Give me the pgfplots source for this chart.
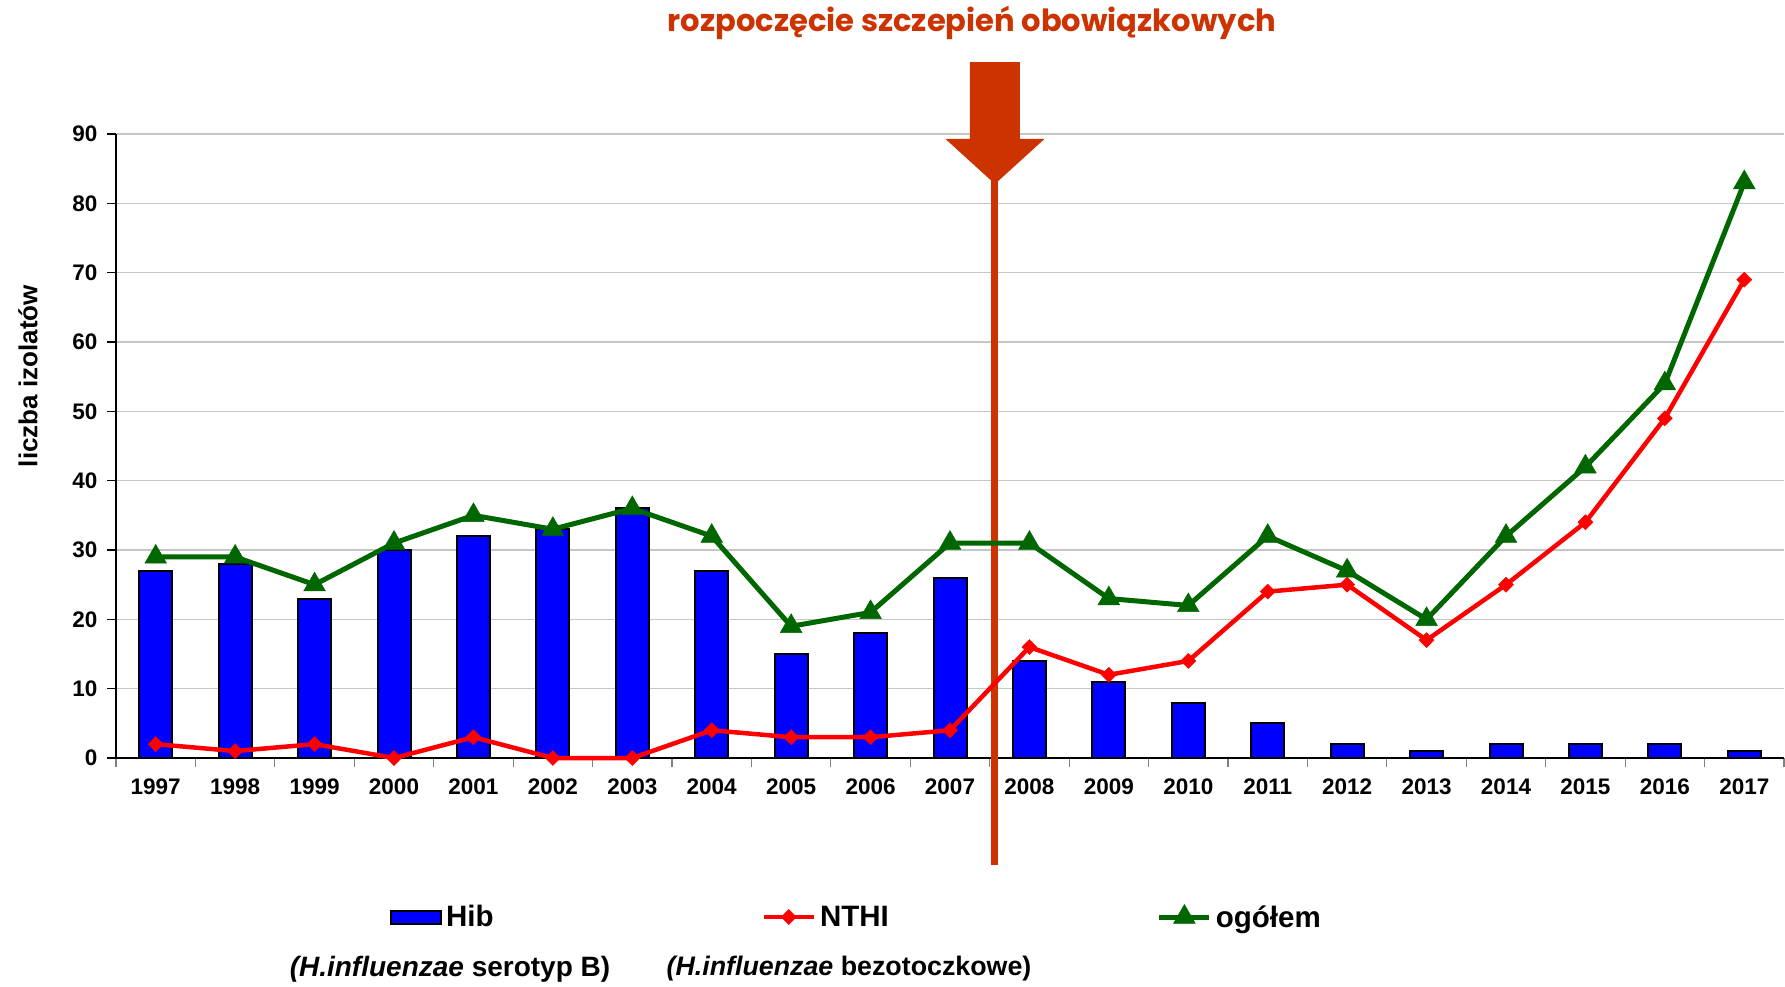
\documentclass[border=0pt]{standalone}
\usepackage{pgfplots}
\pgfplotsset{compat=1.18}
\usepackage{fontspec}
\setmainfont{Liberation Sans}
\newfontfamily\titlefont{Poppins}
\definecolor{hibblue}{RGB}{0,0,255}
\definecolor{nthired}{RGB}{255,0,0}
\definecolor{totgreen}{RGB}{0,102,0}
\definecolor{arrowcol}{RGB}{204,51,0}
\pgfplotsset{
  mylineleg/.style={legend image code/.code={\draw[##1, mark repeat=2, mark phase=2] plot coordinates {(0pt,0pt) (25pt,0pt) (50pt,0pt)};}},
  mybarleg/.style={legend image code/.code={\draw[fill=hibblue, draw=black, line width=2pt] (0pt,-6.5pt) rectangle (50pt,6.5pt);}},
}
\begin{document}
\begin{tikzpicture}[x=1pt,y=1pt]
\path[use as bounding box] (0,0) rectangle (1785,-987);
\begin{axis}[
  at={(116pt,-758pt)}, anchor=south west,
  scale only axis, width=1668pt, height=624pt,
  xmin=-0.5, xmax=20.5, ymin=0, ymax=90,
  axis x line*=bottom, axis y line*=left,
  axis line style={black, line width=1.3pt},
  xtick={0,...,20},
  xticklabels={1997,1998,1999,2000,2001,2002,2003,2004,2005,2006,2007,2008,2009,2010,2011,2012,2013,2014,2015,2016,2017},
  minor xtick={-0.5,0.5,...,20.5},
  ytick={0,10,...,90},
  tick align=outside,
  major tick length=9pt, minor tick length=9pt,
  every major x tick/.append style={draw=none},
  every minor x tick/.append style={gray, line width=1.2pt},
  every major y tick/.append style={black, line width=1.2pt},
  ymajorgrids, grid style={gray!45, line width=1.2pt},
  clip=false,
  tick label style={font=\bfseries\fontsize{22.5}{26}\selectfont},
  /pgf/number format/assume math mode=true,
  yticklabel style={xshift=-6pt},
  xticklabel style={yshift=-8.5pt},
  ylabel={liczba izolatów},
  every axis y label/.style={at={(axis description cs:-0.0528,0.612)}, rotate=90, anchor=center, font=\bfseries\fontsize{26}{30}\selectfont},
  legend columns=3,
  legend cell align=left,
  legend style={at={(axis description cs:0.1643,-0.2548)}, anchor=west, draw=none, fill=none,
    inner sep=0pt, outer sep=0pt, font=\bfseries\fontsize{29.5}{33}\selectfont,
    nodes={inner xsep=4pt},
    /tikz/every even column/.append style={column sep=264pt}},
]
% arrow marking start of mandatory vaccinations
\fill[arrowcol] (axis cs:10.251,100.38) -- (axis cs:10.881,100.38) -- (axis cs:10.881,89.28) -- (axis cs:11.189,89.28) -- (axis cs:10.566,82.79) -- (axis cs:9.943,89.28) -- (axis cs:10.251,89.28) -- cycle;
\draw[arrowcol, line width=7pt] (axis cs:10.566,84) -- (axis cs:10.566,-15.43);

\addplot[ybar, bar width=33pt, bar shift=0pt, fill=hibblue, draw=black, line width=2pt, mybarleg]
coordinates {(0,27) (1,28) (2,23) (3,30) (4,32) (5,33) (6,36) (7,27) (8,15) (9,18) (10,26) (11,14) (12,11) (13,8) (14,5) (15,2) (16,1) (17,2) (18,2) (19,2) (20,1)};
\addlegendentry{Hib}
\addplot[nthired, line width=4.5pt, mark=square*, mark size=5.3pt, mark options={rotate=45, line width=0.5pt, solid}, mylineleg]
coordinates {(0,2) (1,1) (2,2) (3,0) (4,3) (5,0) (6,0) (7,4) (8,3) (9,3) (10,4) (11,16) (12,12) (13,14) (14,24) (15,25) (16,17) (17,25) (18,34) (19,49) (20,69)};
\addlegendentry{NTHI}
\addplot[totgreen, line width=5pt, mark=triangle*, mark size=12.5pt, mark options={line width=0.5pt, solid}, mylineleg]
coordinates {(0,29) (1,29) (2,25) (3,31) (4,35) (5,33) (6,36) (7,32) (8,19) (9,21) (10,31) (11,31) (12,23) (13,22) (14,32) (15,27) (16,20) (17,32) (18,42) (19,54) (20,83)};
\addlegendentry{ogółem}
\end{axis}
\node[text=arrowcol, font=\titlefont\bfseries\fontsize{30.6}{35}\selectfont] at (972,-23) {rozpoczęcie szczepień obowiązkowych};
\node[font=\bfseries\fontsize{28}{32}\selectfont] at (450,-969) {{\itshape (H.influenzae} serotyp B)};
\node[font=\bfseries\fontsize{26.8}{32}\selectfont] at (849,-969) {{\itshape (H.influenzae} bezotoczkowe)};
\end{tikzpicture}
\end{document}
